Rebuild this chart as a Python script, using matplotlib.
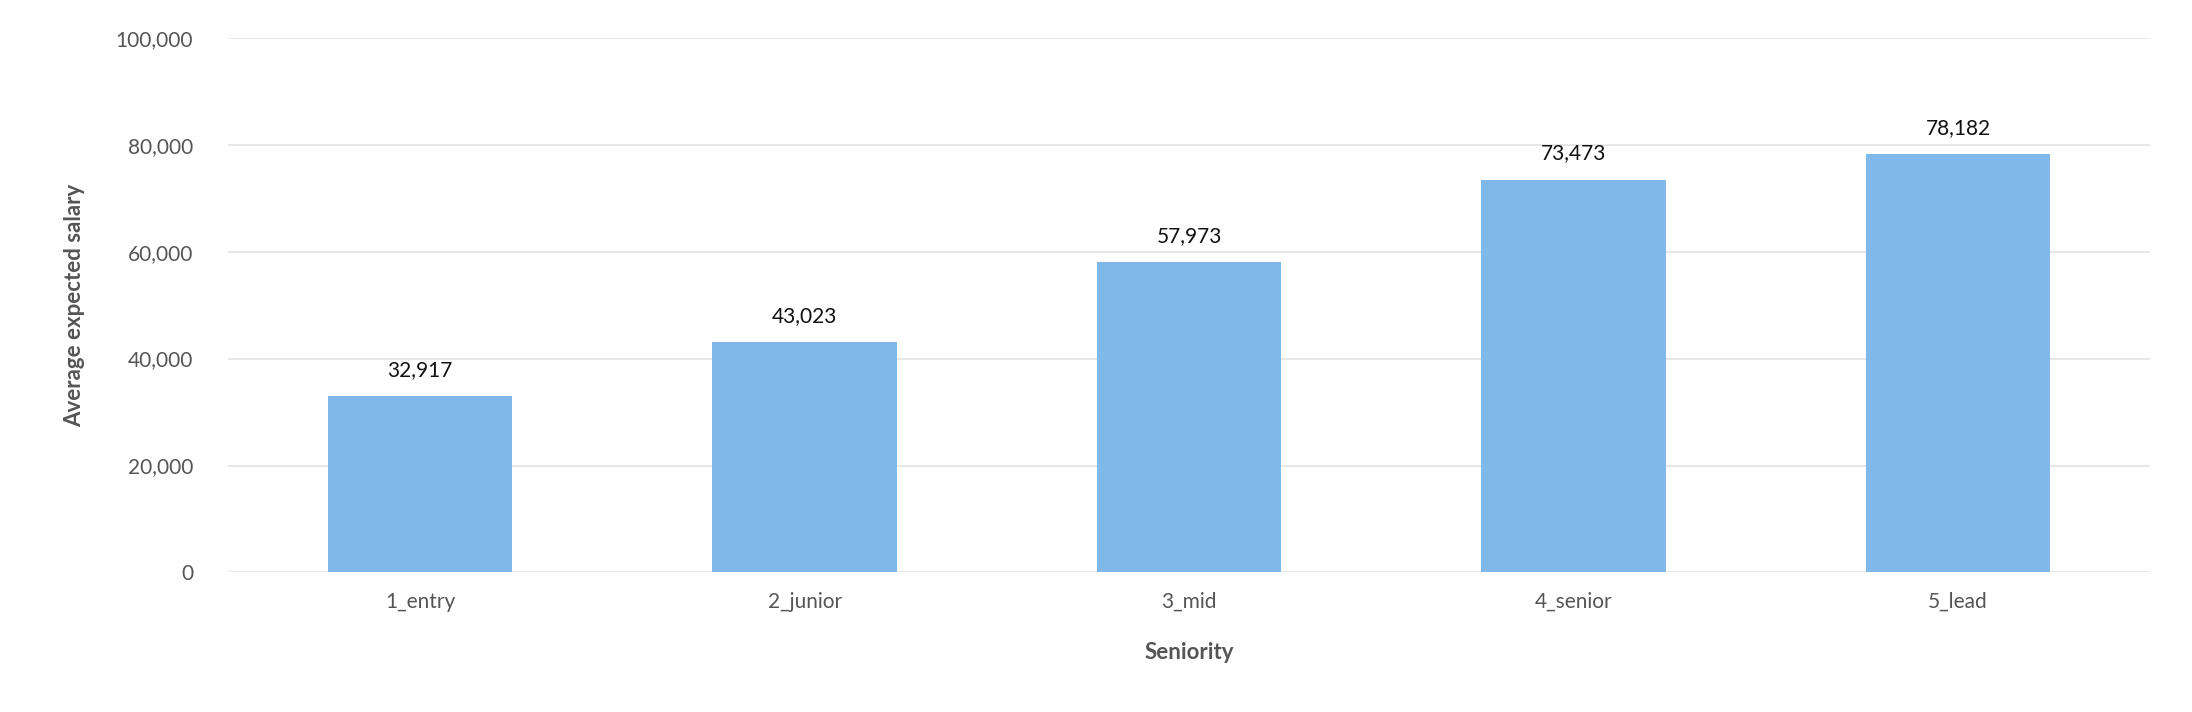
import matplotlib
matplotlib.use("Agg")
import matplotlib.pyplot as plt

categories = ["1_entry", "2_junior", "3_mid", "4_senior", "5_lead"]
salaries = [32917, 43023, 57973, 73473, 78182]

plt.rcParams['font.family'] = ['Lato', 'DejaVu Sans']

fig = plt.figure(figsize=(21.92, 7.12), dpi=100)
ax = fig.add_axes([0.104, 0.196, 0.877, 0.751])

x = range(len(categories))
bars = ax.bar(x, salaries, width=0.48, color='#7EB9EA', zorder=2)
for xi, v in zip(x, salaries):
    ax.text(xi, v + 3000, f"{v:,}", ha='center', va='bottom', fontsize=15, color='#111111')

ax.set_ylim(0, 100000)
ax.set_xlim(-0.5, len(categories) - 0.5)
ax.set_yticks(range(0, 100001, 20000))
ax.set_yticklabels([f"{t:,}" for t in range(0, 100001, 20000)])
ax.set_xticks(list(x))
ax.set_xticklabels(categories)
ax.tick_params(axis='both', length=0, labelsize=15, labelcolor='#555555', pad=14)
ax.tick_params(axis='y', pad=25)
ax.grid(axis='y', color='#e3e3e3', linewidth=1.2, zorder=0)
for s in ax.spines.values():
    s.set_visible(False)

ax.set_xlabel("Seniority", fontsize=16, fontweight='bold', color='#555555', labelpad=22)
ax.set_ylabel("Average expected salary", fontsize=16, fontweight='bold', color='#555555', labelpad=22)

fig.savefig("out.png", dpi=100, facecolor='white')
